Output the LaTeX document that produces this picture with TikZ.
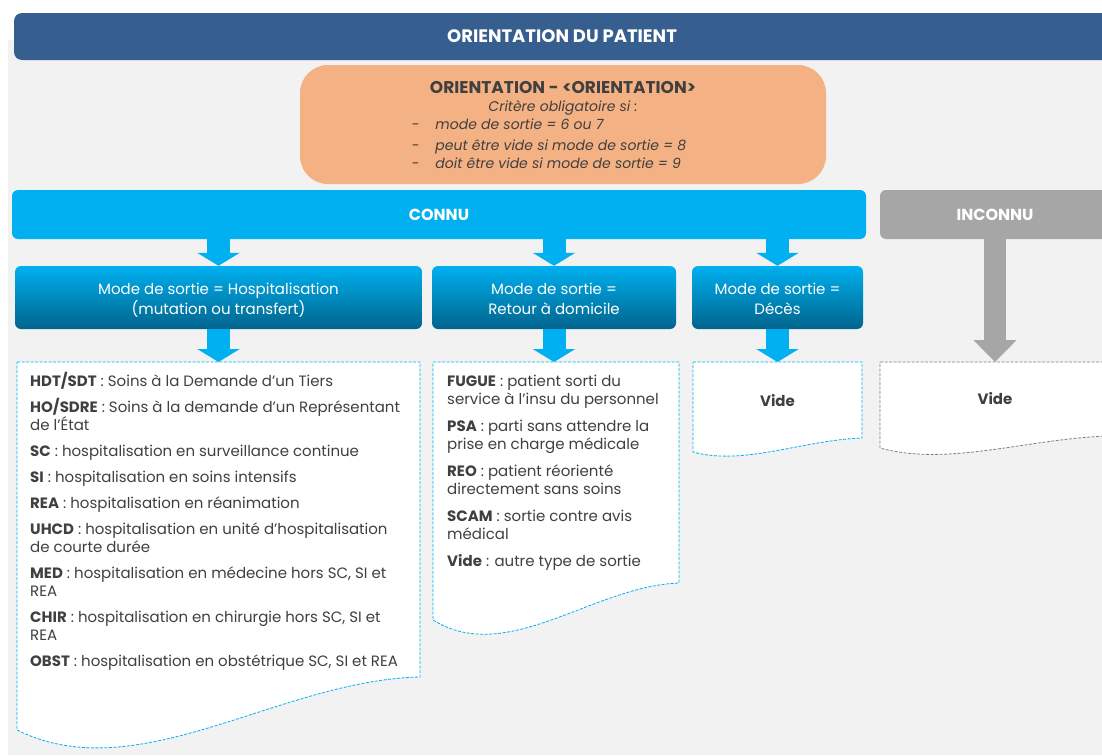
\documentclass[tikz,border=0pt]{standalone}
\usepackage{fontspec}
\setmainfont{Poppins}
\usepackage{tikz}
\usetikzlibrary{arrows.meta}

\definecolor{titleblue}{HTML}{365E8F}
\definecolor{bggray}{HTML}{F2F2F2}
\definecolor{critorange}{HTML}{F4B183}
\definecolor{connublue}{HTML}{00B0F0}
\definecolor{modedark}{HTML}{00648C}
\definecolor{unkgray}{HTML}{A6A6A6}
\definecolor{txtgray}{HTML}{404040}
\definecolor{dashgray}{HTML}{808080}

\begin{document}
\begin{tikzpicture}[x=1pt,y=-1pt,
        titlebar/.style={rectangle,rounded corners=8pt,fill=titleblue,text=white,
            font=\fontsize{18}{20}\selectfont\bfseries,minimum height=47pt,inner sep=0pt},
        critbox/.style={rectangle,rounded corners=28pt,fill=critorange,text=txtgray,
            minimum width=526pt,minimum height=119pt,inner sep=0pt,
            font=\fontsize{14}{18}\selectfont},
        branch/.style={rectangle,rounded corners=6pt,text=white,minimum height=49pt,
            inner sep=0pt,font=\fontsize{16}{18}\selectfont\bfseries},
        modebox/.style={rectangle,rounded corners=6pt,top color=connublue,bottom color=modedark,
            text=white,minimum height=63pt,inner sep=0pt,
            font=\fontsize{15}{20}\selectfont},
        doctext/.style={anchor=north west,align=left,inner sep=0pt,text=txtgray,
            font=\fontsize{15}{18}\selectfont},
        docline/.style={draw=connublue,fill=white,dash pattern=on 3pt off 1.5pt,line width=0.8pt},
        docgray/.style={draw=dashgray,fill=white,dash pattern=on 3pt off 1.5pt,line width=0.8pt},
        blockarrow/.style={draw=connublue,line width=23pt,-{Triangle[width=42pt,length=13pt]}},
        grayarrow/.style={draw=unkgray,line width=22pt,-{Triangle[width=42pt,length=22pt]}}]

    \useasboundingbox (0,0) rectangle (1102,755);
    \fill[bggray] (8,40) rectangle (1102,755);

    % Header
    \node[titlebar,minimum width=1096pt] (title) at (562,36.5) {ORIENTATION DU PATIENT};
    \node[critbox] (crit) at (563,124.5) {\raisebox{-3pt}[\height][\depth]{\begin{tabular}{@{}c@{}}
        {\fontsize{17}{18}\selectfont\bfseries ORIENTATION - <ORIENTATION>}\\
        \textit{Critère obligatoire si :}\\
        \begin{tabular}{@{}l@{\hspace{16pt}}l@{\hspace{28pt}}}
        - & \textit{mode de sortie = 6 ou 7}\\[3pt]
        - & \textit{peut être vide si mode de sortie = 8}\\
        - & \textit{doit être vide si mode de sortie = 9}
        \end{tabular}\end{tabular}}};

    % Branches
    \node[branch,fill=connublue,minimum width=854pt] (connu) at (439,214.5) {CONNU};
    \node[branch,fill=unkgray,minimum width=230pt] (inconnu) at (995,214.5) {INCONNU};

    % Modes de sortie
    \node[modebox,minimum width=407pt] (mode1) at (218.5,297.5) {\raisebox{-3pt}[\height][\depth]{\begin{tabular}{@{}c@{}}
        Mode de sortie = Hospitalisation\\(mutation ou transfert)\end{tabular}}};
    \node[modebox,minimum width=244pt] (mode2) at (554,297.5) {\raisebox{-3pt}[\height][\depth]{\begin{tabular}{@{}c@{}}
        Mode de sortie =\\Retour à domicile\end{tabular}}};
    \node[modebox,minimum width=171pt] (mode3) at (777.5,297.5) {\raisebox{-3pt}[\height][\depth]{\begin{tabular}{@{}c@{}}
        Mode de sortie =\\Décès\end{tabular}}};

    % Documents
    \coordinate (doc1) at (218.5,362);
    \coordinate (doc2) at (554,362);
    \coordinate (doc3) at (777.5,362);
    \coordinate (doc4) at (995,362);
    \draw[docline] (17,362) -- (420,362) -- (420,677)
        .. controls (279,680) and (138,790) .. (17,730) -- cycle;
    \draw[docline] (433,362) -- (679,362) -- (679,583)
        .. controls (593,586) and (507,666) .. (433,620) -- cycle;
    \draw[docline] (693,362) -- (862,362) -- (862,438)
        .. controls (803,440) and (744,466) .. (693,452) -- cycle;
    \draw[docgray] (880,362) -- (1110,362) -- (1110,436)
        .. controls (1030,438) and (949,467) .. (880,448) -- cycle;

    \node[doctext] (list1) at (30,372) {%
        \textbf{HDT/SDT} : Soins à la Demande d'un Tiers\\[8pt]
        \textbf{HO/SDRE} : Soins à la demande d'un Représentant\\de l'État\\[8pt]
        \textbf{SC} : hospitalisation en surveillance continue\\[8pt]
        \textbf{SI} : hospitalisation en soins intensifs\\[8pt]
        \textbf{REA} : hospitalisation en réanimation\\[8pt]
        \textbf{UHCD} : hospitalisation en unité d'hospitalisation\\de courte durée\\[8pt]
        \textbf{MED} : hospitalisation en médecine hors SC, SI et\\REA\\[8pt]
        \textbf{CHIR} : hospitalisation en chirurgie hors SC, SI et\\REA\\[8pt]
        \textbf{OBST} : hospitalisation en obstétrique SC, SI et REA};
    \node[doctext] (list2) at (447,375) {%
        \textbf{FUGUE} : patient sorti du\\service à l'insu du personnel\\[9pt]
        \textbf{PSA} : parti sans attendre la\\prise en charge médicale\\[9pt]
        \textbf{REO} : patient réorienté\\directement sans soins\\[9pt]
        \textbf{SCAM} : sortie contre avis\\médical\\[9pt]
        \textbf{Vide} : autre type de sortie};
    \node[text=txtgray,font=\fontsize{15}{17}\selectfont\bfseries] (vide3) at (777.5,401) {Vide};
    \node[text=txtgray,font=\fontsize{15}{17}\selectfont\bfseries] (vide4) at (995,399) {Vide};

    % Arrows
    \draw[blockarrow] (connu.south -| mode1) -- (mode1.north);
    \draw[blockarrow] (connu.south -| mode2) -- (mode2.north);
    \draw[blockarrow] (connu.south -| mode3) -- (mode3.north);
    \draw[blockarrow] (mode1.south) -- (doc1);
    \draw[blockarrow] (mode2.south) -- (doc2);
    \draw[blockarrow] (mode3.south) -- (doc3);
    \draw[grayarrow] (inconnu.south) -- (doc4);
\end{tikzpicture}
\end{document}
